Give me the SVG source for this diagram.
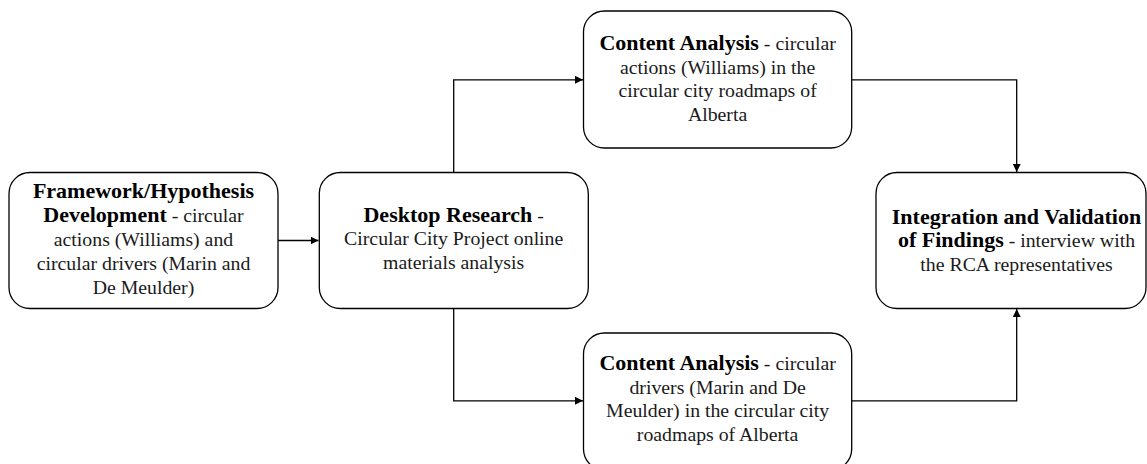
<svg xmlns="http://www.w3.org/2000/svg" width="1147" height="464" viewBox="0 0 1147 464">
<style>
.box{fill:#fff;stroke:#000;stroke-width:1.3}
.t{font-family:"Liberation Serif","Times New Roman",serif;font-size:19.8px;fill:#1a1a1a;text-anchor:middle}
.b{font-weight:bold;font-size:22px;fill:#000}
.c{fill:none;stroke:#000;stroke-width:1.3}
</style>
<defs>
<marker id="arr" viewBox="0 0 10 10" refX="10" refY="5" markerWidth="8" markerHeight="8" markerUnits="userSpaceOnUse" orient="auto">
<path d="M0,0 L10,5 L0,10 z" fill="#000"/>
</marker>
</defs>
<g id="connectors">
<path class="c" d="M278,240.5 H318.5" marker-end="url(#arr)"/>
<path class="c" d="M453.7,172.5 V79.8 H583" marker-end="url(#arr)"/>
<path class="c" d="M453.7,308.5 V400.8 H583" marker-end="url(#arr)"/>
<path class="c" d="M851.7,79.8 H1016.7 V172" marker-end="url(#arr)"/>
<path class="c" d="M851.7,400.8 H1016.7 V309" marker-end="url(#arr)"/>
</g>
<g id="node-framework">
<rect class="box" x="9" y="172.5" width="269" height="136" rx="21"/>
<text class="t" x="143.5" y="198"><tspan class="b">Framework/Hypothesis</tspan></text>
<text class="t" x="143.5" y="222"><tspan class="b">Development</tspan> - circular</text>
<text class="t" x="143.5" y="246">actions (Williams) and</text>
<text class="t" x="143.5" y="270">circular drivers (Marin and</text>
<text class="t" x="143.5" y="294">De Meulder)</text>
</g>
<g id="node-desktop">
<rect class="box" x="319.3" y="172.5" width="269" height="136" rx="21"/>
<text class="t" x="453.7" y="221.5"><tspan class="b">Desktop Research</tspan> -</text>
<text class="t" x="453.7" y="245">Circular City Project online</text>
<text class="t" x="453.7" y="268.5">materials analysis</text>
</g>
<g id="node-content-actions">
<rect class="box" x="583.5" y="11" width="268.2" height="137" rx="21"/>
<text class="t" x="717.6" y="50"><tspan class="b">Content Analysis</tspan> - circular</text>
<text class="t" x="717.6" y="73.7">actions (Williams) in the</text>
<text class="t" x="717.6" y="97.4">circular city roadmaps of</text>
<text class="t" x="717.6" y="121.1">Alberta</text>
</g>
<g id="node-content-drivers">
<rect class="box" x="583.5" y="333" width="268.2" height="137" rx="21"/>
<text class="t" x="717.6" y="370"><tspan class="b">Content Analysis</tspan> - circular</text>
<text class="t" x="717.6" y="393.7">drivers (Marin and De</text>
<text class="t" x="717.6" y="417.4">Meulder) in the circular city</text>
<text class="t" x="717.6" y="441.1">roadmaps of Alberta</text>
</g>
<g id="node-integration">
<rect class="box" x="876" y="172.5" width="270" height="136" rx="21"/>
<text class="t" x="1016.5" y="224"><tspan class="b">Integration and Validation</tspan></text>
<text class="t" x="1016.5" y="247.3"><tspan class="b">of Findings</tspan> - interview with</text>
<text class="t" x="1016.5" y="270.6">the RCA representatives</text>
</g>
</svg>
